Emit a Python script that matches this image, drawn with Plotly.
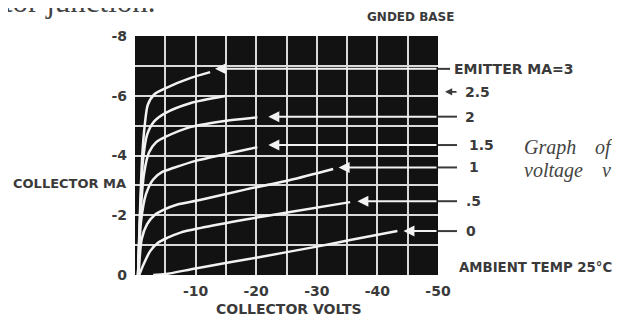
import plotly.graph_objects as go

# ---- data (collector volts, collector mA), one curve per emitter current ----
v_e3 = [-0.5, -0.8, -1.2, -1.6, -2.1, -3.2, -5.0, -9.1, -12.4]
i_e3 = [0.0, -2.0, -4.0, -5.0, -5.69, -6.05, -6.25, -6.59, -6.79]

v_e25 = [-0.5, -0.85, -1.3, -2.0, -3.2, -5.0, -9.1, -14.9]
i_e25 = [0.0, -2.0, -3.8, -4.7, -5.15, -5.42, -5.75, -5.99]

v_e2 = [-0.5, -0.9, -1.5, -2.3, -3.5, -5.0, -9.1, -15.7, -20.2]
i_e2 = [0.0, -2.0, -3.4, -4.1, -4.45, -4.62, -4.95, -5.18, -5.28]

v_e15 = [-0.5, -1.0, -1.8, -3.0, -4.5, -6.3, -10.0, -15.0, -20.2]
i_e15 = [0.0, -1.8, -2.7, -3.2, -3.45, -3.58, -3.82, -4.05, -4.28]

v_e1 = [-0.6, -1.1, -2.0, -3.2, -4.6, -7.0, -10.7, -18.0, -25.6, -32.7]
i_e1 = [0.0, -1.2, -1.7, -2.0, -2.17, -2.36, -2.51, -2.85, -3.18, -3.55]

v_e05 = [-0.7, -1.4, -2.5, -3.8, -5.3, -7.5, -10.7, -18.0, -25.6, -35.5]
i_e05 = [0.0, -0.35, -0.8, -1.08, -1.24, -1.42, -1.57, -1.85, -2.11, -2.44]

v_e0 = [-3.0, -5.0, -10.0, -20.0, -30.0, -35.5, -43.3]
i_e0 = [0.0, -0.03, -0.22, -0.58, -0.95, -1.17, -1.47]

curves_v = [v_e3, v_e25, v_e2, v_e15, v_e1, v_e05, v_e0]
curves_i = [i_e3, i_e25, i_e2, i_e15, i_e1, i_e05, i_e0]

# right-hand emitter labels, their row level (mA) and arrow tips (volts)
row_labels = ["EMITTER MA=3", "2.5", "2", "1.5", "1", ".5", "0"]
row_ma = [-6.9, -6.13, -5.3, -4.35, -3.6, -2.47, -1.47]
arrow_tip_v = [-13.2, None, -22.0, -22.0, -33.6, -36.7, -44.3]

x_tickvals = [-5, -10, -15, -20, -25, -30, -35, -40, -45, -50]
x_ticktext = ["", "-10", "", "-20", "", "-30", "", "-40", "", "-50"]
y_tickvals = [0, -1, -2, -3, -4, -5, -6, -7, -8]
y_ticktext = ["0", "", "-2", "", "-4", "", "-6", "", "-8"]

# ---- layout geometry (positions given in window pixels; page body adds 8px) ----
OFF = 8
W, H = 620 - OFF, 321 - OFF
PL, PR, PT, PB = 135, 438, 36, 275          # plot box in window pixels
L, T = PL - OFF, PT - OFF
R, B = W - (PR - OFF), H - (PB - OFF)
PW, PH = W - L - R, H - T - B


def px(x):
    return (x - PL) / PW


def py(y):
    return (PB - y) / PH


INK = "#3a3a3a"
LET = "DejaVu Sans"
SERIF = "Liberation Serif"

fig = go.Figure()
for v, i in zip(curves_v, curves_i):
    fig.add_trace(go.Scatter(x=v, y=i, mode="lines", hoverinfo="skip",
                             line=dict(color="#f2f2f2", width=2.5,
                                       shape="spline", smoothing=0.7),
                             showlegend=False))

ann = []
shapes = []
label_x = [452, 463, 463, 467, 467, 464, 464]
for k, (txt, ma, tip) in enumerate(zip(row_labels, row_ma, arrow_tip_v)):
    ann.append(dict(x=px(label_x[k]), y=ma / -8.0, xref="paper", yref="paper",
                    text=txt, showarrow=False, xanchor="left", yanchor="middle",
                    font=dict(family=LET, size=14, color=INK, weight="bold")))
    if tip is not None:
        ann.append(dict(x=tip, y=ma, xref="x", yref="y", axref="x", ayref="y",
                        ax=-50, ay=ma, text="", showarrow=True, arrowhead=2,
                        arrowsize=1.1, arrowwidth=2, arrowcolor="#f2f2f2",
                        standoff=0))
        x_end = 450 if k == 0 else 457
        shapes.append(dict(type="line", xref="paper", yref="paper",
                           x0=px(PR), x1=px(x_end), y0=ma / -8.0, y1=ma / -8.0,
                           line=dict(color=INK, width=2)))
    else:
        ann.append(dict(x=px(445), y=ma / -8.0, xref="paper", yref="paper",
                        ax=13, ay=0, text="", showarrow=True, arrowhead=2,
                        arrowsize=0.9, arrowwidth=1.6, arrowcolor=INK, standoff=0))


def text_at(x, y, s, anchor, font):
    return dict(x=px(x), y=py(y), xref="paper", yref="paper", text=s,
                showarrow=False, xanchor=anchor, yanchor="middle", font=font)


bold = lambda size: dict(family=LET, size=size, color=INK, weight="bold")
ital = dict(family=SERIF, size=20, color="#444", style="italic")

ann += [
    text_at(2, 1.0, "tor junction.", "left", dict(family=SERIF, size=31, color="#444")),
    text_at(410, 17, "GNDED BASE", "center", bold(12)),
    text_at(128, 183, "COLLECTOR MA", "right", bold(13)),
    text_at(289, 309, "COLLECTOR VOLTS", "center", bold(14)),
    text_at(457, 267, "AMBIENT TEMP 25°C", "left", bold(13.3)),
    text_at(522, 147, "Graph", "left", ital),
    text_at(593, 147, "of", "left", ital),
    text_at(522, 170, "voltage", "left", ital),
    text_at(600, 170, "v", "left", ital),
]

tick_font = dict(family=LET, size=14, color=INK, weight="bold")
fig.update_layout(
    width=W, height=H, autosize=False,
    margin=dict(l=L, r=R, t=T, b=B, pad=0),
    paper_bgcolor="white", plot_bgcolor="#121212",
    annotations=ann, shapes=shapes, showlegend=False,
    xaxis=dict(range=[0, -50], tickvals=x_tickvals, ticktext=x_ticktext,
               showgrid=True, gridcolor="#dadada", gridwidth=2, zeroline=False,
               showline=False, ticks="", tickfont=tick_font, ticklabelstandoff=6,
               fixedrange=True),
    yaxis=dict(range=[0, -8], tickvals=y_tickvals, ticktext=y_ticktext,
               showgrid=True, gridcolor="#dadada", gridwidth=2, zeroline=False,
               showline=False, ticks="", tickfont=tick_font, ticklabelstandoff=7,
               fixedrange=True),
)

fig.write_html("out.html")
